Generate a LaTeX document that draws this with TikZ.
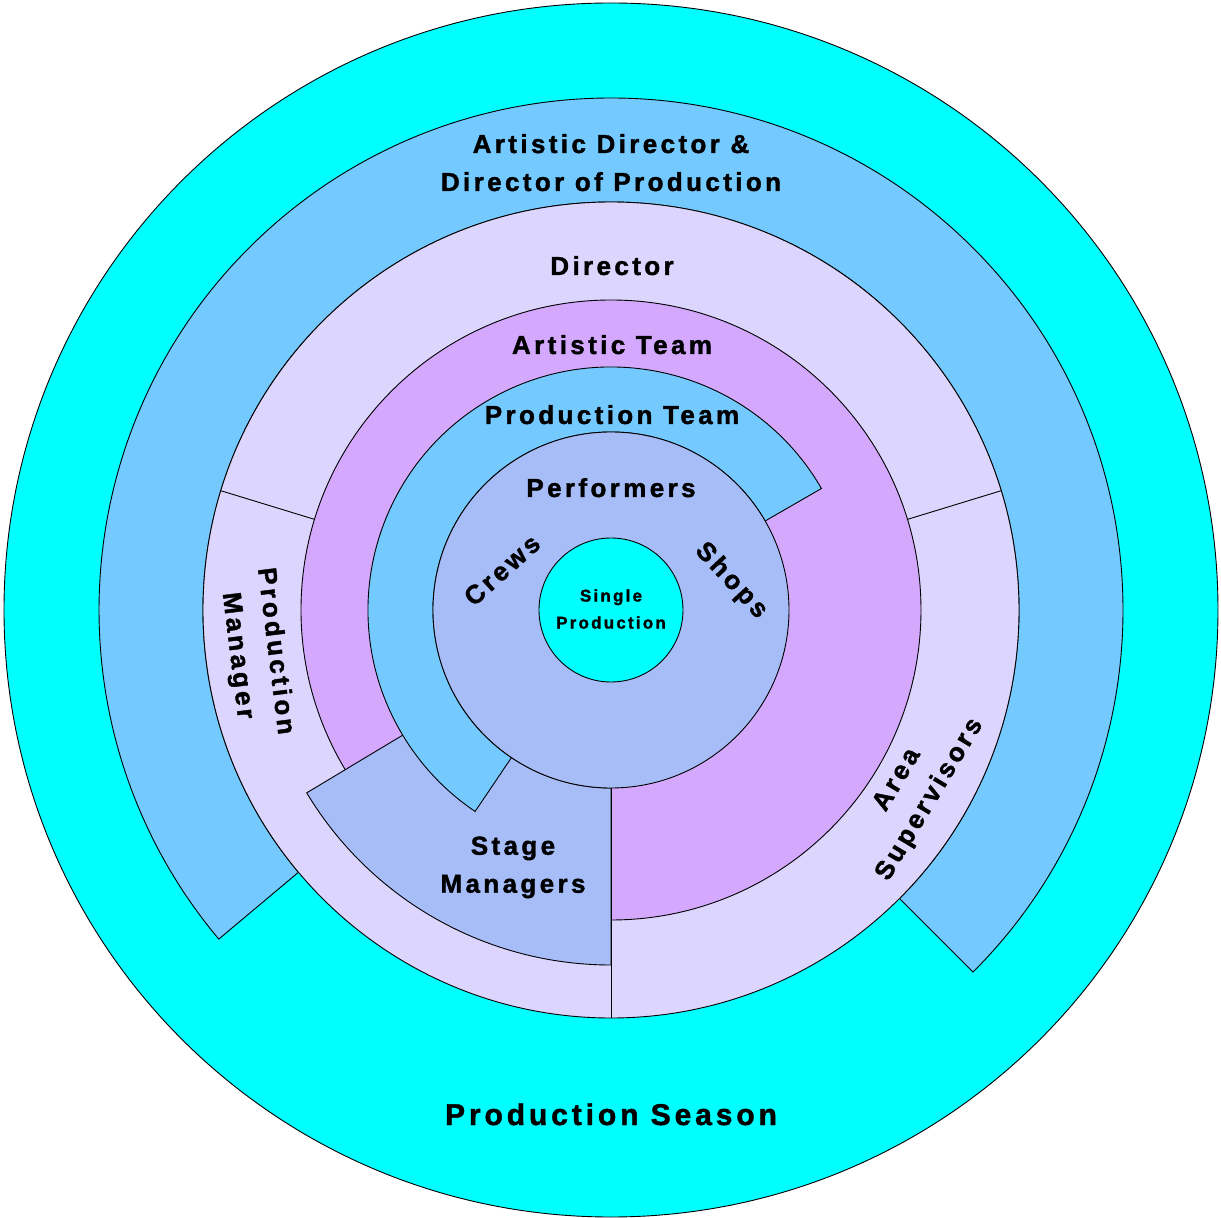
\documentclass[tikz,border=0pt]{standalone}
\usepackage{fontspec}
\newfontfamily\labfont{Liberation Sans}[LetterSpace=13, BoldFeatures={FakeBold=1.5}]
\definecolor{cyanC}{HTML}{00FFFF}
\definecolor{bandblue}{HTML}{74C9FF}
\definecolor{lav}{HTML}{DCD5FD}
\definecolor{purp}{HTML}{D4A9FD}
\definecolor{perf}{HTML}{A7BDF8}
\begin{document}
\begin{tikzpicture}[x=1pt,y=1pt,
  ring/.style={draw=black, line width=0.9pt},
  lab/.style={font=\labfont\bfseries\fontsize{26}{38}\selectfont, align=center, inner sep=0pt, text=black},
  smalllab/.style={font=\labfont\bfseries\fontsize{17}{27}\selectfont, align=center, inner sep=0pt, text=black},
  biglab/.style={font=\labfont\bfseries\fontsize{30}{38}\selectfont, align=center, inner sep=0pt, text=black}]
\useasboundingbox (-611,-608) rectangle (610,610);
% outer season circle
\draw[ring, fill=cyanC] (0,0) circle[radius=607];
% artistic director band
\draw[ring, fill=bandblue] (-45:408) -- (-45:512) arc[start angle=-45, end angle=220, radius=512] -- (220:408) arc[start angle=220, end angle=-45, radius=408] -- cycle;
% director ring
\draw[ring, fill=lav] (0,0) circle[radius=408];
\draw[ring] (17:310) -- (17:408);
\draw[ring] (163:310) -- (163:408);
% artistic team
\draw[ring, fill=purp] (0,0) circle[radius=310];
% stage managers
\draw[ring, fill=perf] (211:355) arc[start angle=211, end angle=270, radius=355] -- (270:178) arc[start angle=270, end angle=211, radius=178] -- cycle;
% production team
\draw[ring, fill=bandblue] (30:178) -- (30:243) arc[start angle=30, end angle=236, radius=243] -- (236:178) arc[start angle=236, end angle=30, radius=178] -- cycle;
% performers
\draw[ring, fill=perf] (0,0) circle[radius=178];
\draw[ring] (270:178) -- (270:408);
% single production
\draw[ring, fill=cyanC] (0,0) circle[radius=72];
% labels
\node[lab, anchor=base] (adp1) at (0,457) {Artistic Director \&};
\node[lab, anchor=base] (adp2) at (0,419) {Director of Production};
\node[lab, anchor=base] (dir) at (1,335) {Director};
\node[lab, anchor=base] (art) at (1,256) {Artistic Team};
\node[lab, anchor=base] (prt) at (1,186) {Production Team};
\node[lab, anchor=base] (perfl) at (0,113) {Performers};
\node[smalllab] (single) at (0,1) {Single\\Production};
\node[lab, rotate=42] (crews) at (-109,40) {Crews};
\node[lab, rotate=-47] (shops) at (120,29) {Shops};
\node[lab, rotate=-83] (pm) at (-355,-43.5) {Production\\Manager};
\node[lab, rotate=59] (as) at (303,-180) {Area\\Supervisors};
\node[lab] (sm) at (-98,-257.4) {Stage\\Managers};
\node[biglab, anchor=base] (season) at (0,-515) {Production Season};
\end{tikzpicture}
\end{document}
